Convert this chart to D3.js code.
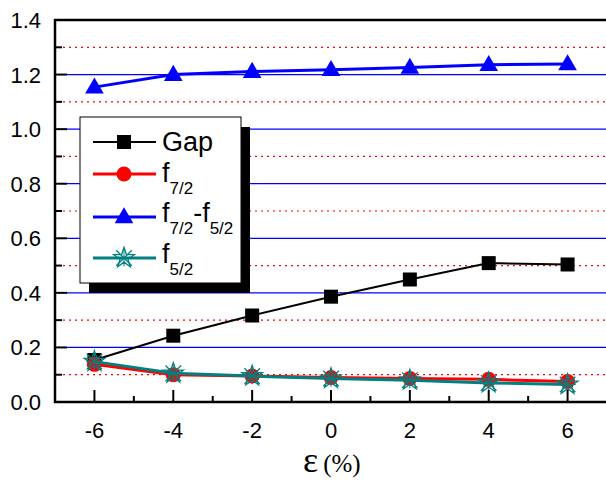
<!doctype html>
<html>
<head>
<meta charset="utf-8"/>
<style>
  html, body { margin: 0; padding: 0; background: #fff; }
  svg { display: block; font-family: 'Liberation Sans', Arial, sans-serif; }
</style>
<script src="https://cdnjs.cloudflare.com/ajax/libs/d3/7.8.5/d3.min.js"></script>
</head>
<body>
<svg id="chart" width="606" height="481"></svg>
<script>
// strain values (%)
var strain = [-6, -4, -2, 0, 2, 4, 6];
var gap = [0.154, 0.243, 0.317, 0.386, 0.449, 0.509, 0.504];
var f72 = [0.138, 0.100, 0.095, 0.090, 0.086, 0.083, 0.075];
var split = [1.154, 1.200, 1.211, 1.218, 1.226, 1.236, 1.239];
var f52 = [0.148, 0.105, 0.095, 0.086, 0.080, 0.070, 0.064];
var xTicks = [-6, -4, -2, 0, 2, 4, 6];
var yTicks = [0.0, 0.2, 0.4, 0.6, 0.8, 1.0, 1.2, 1.4];

var svg = d3.select("#chart");
var x = d3.scaleLinear().domain([-7, 7]).range([55, 607]);
var y = d3.scaleLinear().domain([0, 1.4]).range([402, 20]);

// --- gridlines ---
var grid = svg.append("g");
d3.range(0.2, 1.3, 0.2).forEach(function(v) {
  grid.append("line").attr("x1", 67).attr("x2", 606)
    .attr("y1", y(v)).attr("y2", y(v))
    .attr("stroke", "#0000ff").attr("stroke-width", 1.2);
});
d3.range(0.1, 1.35, 0.2).forEach(function(v) {
  grid.append("line").attr("x1", 63).attr("x2", 606)
    .attr("y1", y(v)).attr("y2", y(v))
    .attr("stroke", "#ff0000").attr("stroke-width", 1.2)
    .attr("stroke-dasharray", "2,4");
});

// --- series ---
var line = d3.line().x(function(d) { return x(d[0]); }).y(function(d) { return y(d[1]); });
var series = [
  {name: "Gap", values: gap, color: "#000000", width: 2, symbol: "square"},
  {name: "f72", values: f72, color: "#ff0000", width: 3, symbol: "circle"},
  {name: "split", values: split, color: "#0000ff", width: 3, symbol: "triangle"},
  {name: "f52", values: f52, color: "#008080", width: 3, symbol: "star"}
];

function drawMarker(g, type, color, cx, cy) {
  if (type === "square") {
    g.append("rect").attr("x", cx - 7).attr("y", cy - 7).attr("width", 14).attr("height", 14)
      .attr("fill", color);
  } else if (type === "circle") {
    g.append("circle").attr("cx", cx).attr("cy", cy).attr("r", 7.5).attr("fill", color);
  } else if (type === "triangle") {
    g.append("path").attr("transform", "translate(" + cx + "," + (cy + 1) + ")")
      .attr("d", d3.symbol(d3.symbolTriangle, 150)()).attr("fill", color);
  } else {
    g.append("path").attr("transform", "translate(" + cx + "," + cy + ")")
      .attr("d", d3.symbol(d3.symbolStar, 130)())
      .attr("fill", "none").attr("stroke", color).attr("stroke-width", 1.3);
    g.append("path").attr("transform", "translate(" + cx + "," + cy + ")")
      .attr("d", d3.symbol(d3.symbolTimes, 160)())
      .attr("fill", "none").attr("stroke", color).attr("stroke-width", 1.3);
    g.append("path").attr("transform", "translate(" + cx + "," + cy + ")")
      .attr("d", d3.symbol(d3.symbolPlus, 90)())
      .attr("fill", "none").attr("stroke", color).attr("stroke-width", 1);
  }
}

series.forEach(function(s) {
  var pts = strain.map(function(v, i) { return [v, s.values[i]]; });
  var g = svg.append("g");
  g.append("path").datum(pts).attr("d", line)
    .attr("fill", "none").attr("stroke", s.color).attr("stroke-width", s.width);
  pts.forEach(function(p) { drawMarker(g, s.symbol, s.color, x(p[0]), y(p[1])); });
});

// --- axes ---
var axes = svg.append("g");
axes.append("line").attr("x1", 54).attr("x2", 606).attr("y1", 402).attr("y2", 402)
  .attr("stroke", "#000").attr("stroke-width", 2.5);
axes.append("line").attr("x1", 54).attr("x2", 606).attr("y1", 20).attr("y2", 20)
  .attr("stroke", "#000").attr("stroke-width", 2.5);
axes.append("line").attr("x1", 55).attr("x2", 55).attr("y1", 19).attr("y2", 403)
  .attr("stroke", "#000").attr("stroke-width", 2.5);

d3.range(-6, 7, 1).forEach(function(v) {
  var major = v % 2 === 0;
  axes.append("line").attr("x1", x(v)).attr("x2", x(v))
    .attr("y1", 402).attr("y2", 402 - (major ? 12 : 6))
    .attr("stroke", "#000").attr("stroke-width", 2);
});
d3.range(0.1, 1.35, 0.1).forEach(function(v) {
  var major = Math.round(v * 10) % 2 === 0;
  axes.append("line").attr("x1", 55).attr("x2", 55 + (major ? 12 : 7))
    .attr("y1", y(v)).attr("y2", y(v))
    .attr("stroke", "#000").attr("stroke-width", 2);
});

xTicks.forEach(function(v) {
  axes.append("text").attr("x", x(v)).attr("y", 438).attr("text-anchor", "middle")
    .attr("font-size", 22).text(v);
});
yTicks.forEach(function(v) {
  axes.append("text").attr("x", 41).attr("y", y(v) + 8).attr("text-anchor", "end")
    .attr("font-size", 22).text(d3.format(".1f")(v));
});

var xl = axes.append("text").attr("x", 303).attr("y", 472)
  .attr("font-family", "'Liberation Serif', 'DejaVu Serif', serif");
xl.append("tspan").attr("font-size", 36).text("ε");
xl.append("tspan").attr("font-size", 25).attr("dx", 5).text("(%)");

// --- legend ---
var lg = svg.append("g");
lg.append("rect").attr("x", 89).attr("y", 127).attr("width", 161).attr("height", 166).attr("fill", "#000");
lg.append("rect").attr("x", 80).attr("y", 117).attr("width", 161).attr("height", 166)
  .attr("fill", "#fff").attr("stroke", "#000").attr("stroke-width", 1);

var rows = [142, 174, 217, 258];
series.forEach(function(s, i) {
  lg.append("line").attr("x1", 93).attr("x2", 156).attr("y1", rows[i]).attr("y2", rows[i])
    .attr("stroke", s.color).attr("stroke-width", s.width);
  drawMarker(lg, s.symbol, s.color, 124, rows[i]);
});

function sub(t, main, subText) {
  t.append("tspan").text(main);
  t.append("tspan").attr("font-size", 17).attr("dy", 12).text(subText);
}
var t0 = lg.append("text").attr("x", 162).attr("y", 151).attr("font-size", 27).text("Gap");
var t1 = lg.append("text").attr("x", 162).attr("y", 182).attr("font-size", 27);
sub(t1, "f", "7/2");
var t2 = lg.append("text").attr("x", 162).attr("y", 222).attr("font-size", 27);
t2.append("tspan").text("f");
t2.append("tspan").attr("font-size", 17).attr("dy", 12).text("7/2");
t2.append("tspan").attr("dy", -12).text("-f");
t2.append("tspan").attr("font-size", 17).attr("dy", 12).text("5/2");
var t3 = lg.append("text").attr("x", 162).attr("y", 263).attr("font-size", 27);
sub(t3, "f", "5/2");
</script>
</body>
</html>
